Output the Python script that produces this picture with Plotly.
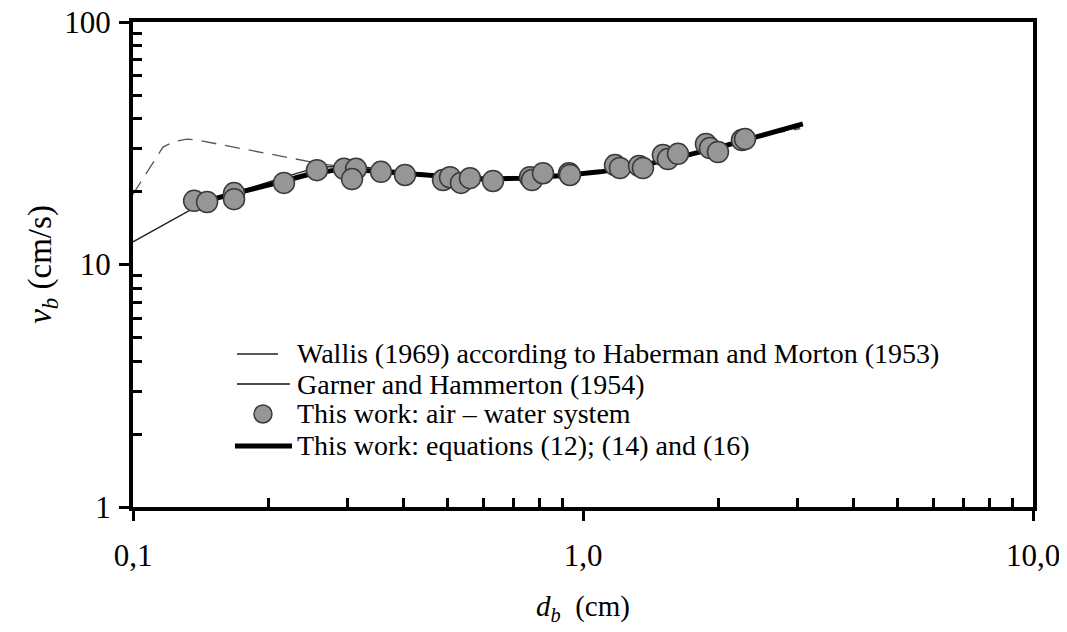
import plotly.graph_objects as go

# measured points, this work (air - water)
d_exp = [0.1367, 0.1461, 0.1677, 0.1677, 0.2165, 0.2563, 0.2944, 0.3131, 0.3067,
         0.3557, 0.4022, 0.4886, 0.5064, 0.5357, 0.5609, 0.6310, 0.7624, 0.7702,
         0.8149, 0.9309, 0.9356, 1.178, 1.208, 1.332, 1.359, 1.505, 1.544, 1.626,
         1.876, 1.915, 1.995, 2.256, 2.291]
v_exp = [18.3, 18.1, 19.7, 18.6, 21.7, 24.5, 24.8, 24.8, 22.5,
         24.1, 23.4, 22.3, 22.9, 21.7, 22.7, 22.1, 22.9, 22.3,
         23.8, 23.8, 23.4, 25.7, 25.0, 25.5, 25.0, 28.3, 27.2, 28.6,
         31.4, 30.2, 29.1, 32.6, 32.9]

# equations (12), (14) and (16)
d_eq = [0.1305, 0.1483, 0.1677, 0.1915, 0.2165, 0.2474, 0.2812, 0.3194, 0.3921, 0.4810,
        0.5903, 0.7244, 0.889, 1.091, 1.339, 1.643, 2.016, 2.474, 3.08]
v_eq = [17.4, 18.45, 19.5, 20.9, 22.1, 23.6, 24.5, 24.5, 23.8, 22.9,
        22.5, 22.7, 23.2, 24.1, 25.5, 27.8, 30.5, 33.9, 38.0]

# Garner and Hammerton (1954)
d_gh = [0.1, 0.1148, 0.1374, 0.1677, 0.2165, 0.2603, 0.3194, 0.3921, 0.481, 0.5903,
        0.7244, 0.889, 1.091, 1.339, 1.643, 2.016, 2.474, 3.03]
v_gh = [12.4, 14.3, 17.2, 19.7, 22.9, 25.3, 25.3, 24.3, 23.4, 22.9,
        22.9, 23.4, 24.3, 25.7, 28.0, 30.9, 34.2, 36.8]

# Wallis (1969) after Haberman and Morton (1953)
d_wa = [0.1, 0.1052, 0.1108, 0.1166, 0.1227, 0.1318, 0.1387, 0.2563, 0.3193, 0.4808,
        0.7238, 1.089, 1.637, 2.46, 3.04]
v_wa = [19.5, 22.7, 26.2, 30.5, 32.0, 32.9, 32.6, 26.2, 24.6, 23.1,
        23.0, 24.4, 28.1, 34.0, 36.3]

x_ticks = [0.1, 1, 10]
x_ticktext = ["0,1", "1,0", "10,0"]
y_ticks = [1, 10, 100]
y_ticktext = ["1", "10", "100"]

legend_labels = ["Wallis (1969) according to Haberman and Morton (1953)",
                 "Garner and Hammerton (1954)",
                 "This work: air \u2013 water system",
                 "This work: equations (12); (14) and (16)"]

FONT = "Liberation Serif"
GREY = "#969696"

fig = go.Figure()
fig.add_trace(go.Scatter(x=d_wa, y=v_wa, mode="lines", name=legend_labels[0],
                         line=dict(color="#555555", width=1.3, dash="15px,9px")))
fig.add_trace(go.Scatter(x=d_gh, y=v_gh, mode="lines", name=legend_labels[1],
                         line=dict(color="#222222", width=1.3)))
fig.add_trace(go.Scatter(x=d_eq, y=v_eq, mode="lines", name=legend_labels[3],
                         line=dict(color="black", width=5)))
fig.add_trace(go.Scatter(x=d_exp, y=v_exp, mode="markers", name=legend_labels[2],
                         marker=dict(size=21, color=GREY,
                                     line=dict(color="#3a3a3a", width=1.5))))

# legend drawn by hand so that the row spacing matches the original
row_y = [0.3155, 0.2536, 0.1918, 0.1258]
for label, ry in zip(legend_labels, row_y):
    fig.add_annotation(x=0.180, y=ry, xref="paper", yref="paper", text=label,
                       showarrow=False, xanchor="left", yanchor="middle",
                       font=dict(size=28, family=FONT, color="black"))
fig.add_shape(type="line", xref="paper", yref="paper", x0=0.1156, x1=0.1611,
              y0=row_y[0], y1=row_y[0], line=dict(color="#222222", width=1.3))
fig.add_shape(type="line", xref="paper", yref="paper", x0=0.1156, x1=0.1744,
              y0=row_y[1], y1=row_y[1], line=dict(color="#111111", width=1.3))
fig.add_shape(type="circle", xref="paper", yref="paper", x0=0.1344, x1=0.1544,
              y0=row_y[2] - 0.0186, y1=row_y[2] + 0.0186,
              fillcolor=GREY, line=dict(color="#3a3a3a", width=1.5))
fig.add_shape(type="line", xref="paper", yref="paper", x0=0.1133, x1=0.1767,
              y0=row_y[3], y1=row_y[3], line=dict(color="black", width=5))

# minor tick positions (2..9 in each decade)
x_minor = [m * 10 ** e for e in (-1, 0) for m in range(2, 10)]
y_minor = [m * 10 ** e for e in (0, 1) for m in range(2, 10)]

fig.update_layout(
    width=1067, height=632,
    # the page adds an 8px body margin, so the plot box is offset to compensate
    margin=dict(l=125, r=42, t=14, b=133),
    paper_bgcolor="white", plot_bgcolor="white",
    font=dict(family=FONT, size=28, color="black"),
    showlegend=False,
    xaxis=dict(type="log", range=[-1, 1], showgrid=False, zeroline=False,
               automargin=False, ticklabeloverflow="allow",
               showline=True, linecolor="black", linewidth=4, mirror=True,
               tickvals=x_ticks, ticktext=x_ticktext, ticks="outside",
               ticklen=10, tickwidth=3, tickcolor="black",
               tickfont=dict(size=31, family=FONT), ticklabelstandoff=8,
               minor=dict(tickvals=x_minor, ticks="inside", ticklen=9,
                          tickwidth=2.5, tickcolor="black", showgrid=False),
               title=dict(text="<i>d</i><sub><i>b</i></sub>  (cm)",
                          font=dict(size=29, family=FONT), standoff=24)),
    yaxis=dict(type="log", range=[0, 2], showgrid=False, zeroline=False,
               automargin=False, ticklabeloverflow="allow",
               showline=True, linecolor="black", linewidth=4, mirror=True,
               tickvals=y_ticks, ticktext=y_ticktext, ticks="outside",
               ticklen=10, tickwidth=3, tickcolor="black",
               tickfont=dict(size=31, family=FONT), ticklabelstandoff=2,
               minor=dict(tickvals=y_minor, ticks="inside", ticklen=9,
                          tickwidth=2.5, tickcolor="black", showgrid=False),
               title=dict(text="<i>v</i><sub><i>b</i></sub> (cm/s)",
                          font=dict(size=33, family=FONT), standoff=4)),
    # inner halves of the major ticks
    xaxis2=dict(type="log", range=[-1, 1], overlaying="x", anchor="y",
                showgrid=False, zeroline=False, showline=False,
                tickvals=x_ticks, ticks="inside", ticklen=10, tickwidth=3,
                tickcolor="black", showticklabels=False),
    yaxis2=dict(type="log", range=[0, 2], overlaying="y", anchor="x",
                showgrid=False, zeroline=False, showline=False,
                tickvals=y_ticks, ticks="inside", ticklen=10, tickwidth=3,
                tickcolor="black", showticklabels=False),
)

fig.write_html("out.html")
